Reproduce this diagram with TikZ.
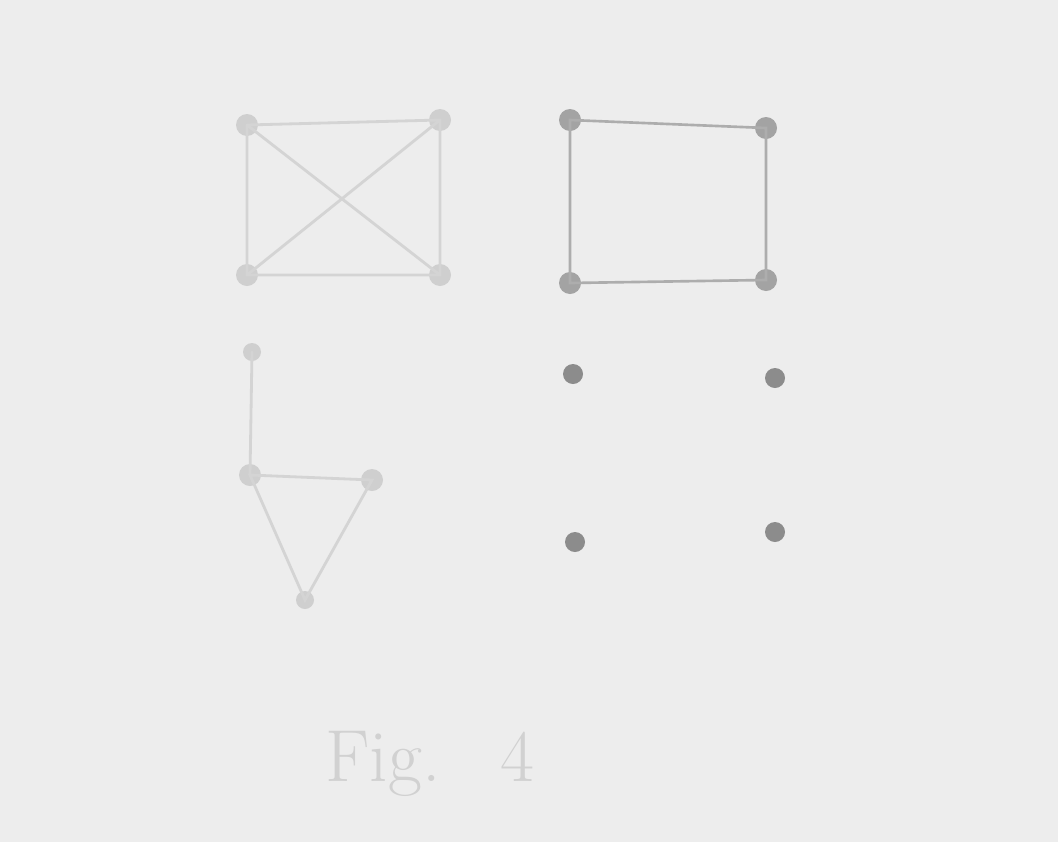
\documentclass[tikz,border=0pt]{standalone}
\begin{document}
\begin{tikzpicture}[x=0.02cm,y=-0.02cm,
  lightedge/.style={draw=black!17, line width=1.6pt, line cap=round},
  darkedge/.style={draw=black!32, line width=1.5pt, line cap=round},
  lightv/.style={circle, fill=black!19, inner sep=0pt, minimum size=22*0.02cm},
  darkv/.style={circle, fill=black!36, inner sep=0pt, minimum size=22*0.02cm},
  dot/.style={circle, fill=black!45, inner sep=0pt, minimum size=20*0.02cm}]
\fill[black!7] (0,0) rectangle (1058,842);
\useasboundingbox (0,0) rectangle (1058,842);
% K4
\node[lightv] (a1) at (247,125) {};
\node[lightv] (a2) at (440,120) {};
\node[lightv] (a3) at (247,275) {};
\node[lightv] (a4) at (440,275) {};
\draw[lightedge] (a1.center) -- (a2.center) -- (a4.center) -- (a3.center) -- (a1.center);
\draw[lightedge] (a1.center) -- (a4.center);
\draw[lightedge] (a2.center) -- (a3.center);
% C4
\node[darkv] (b1) at (570,120) {};
\node[darkv] (b2) at (766,128) {};
\node[darkv] (b3) at (570,283) {};
\node[darkv] (b4) at (766,280) {};
\draw[darkedge] (b1.center) -- (b2.center) -- (b4.center) -- (b3.center) -- cycle;
% triangle with pendant
\node[lightv, minimum size=18*0.02cm] (c1) at (252,352) {};
\node[lightv] (c2) at (250,475) {};
\node[lightv] (c3) at (372,480) {};
\node[lightv, minimum size=18*0.02cm] (c4) at (305,600) {};
\draw[lightedge] (c1.center) -- (c2.center);
\draw[lightedge] (c2.center) -- (c3.center) -- (c4.center) -- cycle;
% empty graph
\node[dot] (d1) at (573,374) {};
\node[dot] (d2) at (775,378) {};
\node[dot] (d3) at (575,542) {};
\node[dot] (d4) at (775,532) {};
% caption
\node[text=black!18, font=\fontsize{42}{46}\selectfont] (cap) at (430,764) {Fig.\hspace{1.2cm}4};
\end{tikzpicture}
\end{document}
